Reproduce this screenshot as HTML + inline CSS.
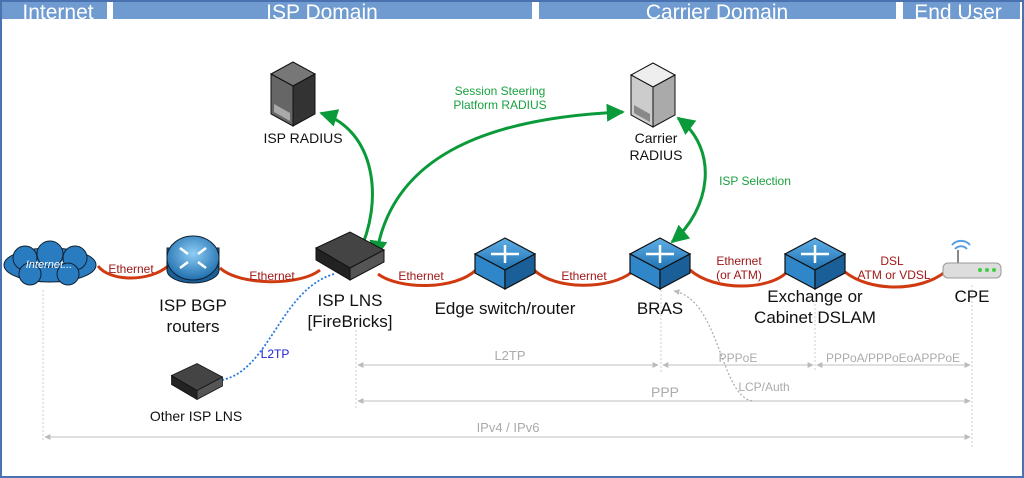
<!DOCTYPE html>
<html><head><meta charset="utf-8"><style>
html,body{margin:0;padding:0;background:#fff}
svg{display:block;font-family:"Liberation Sans",sans-serif}
</style></head><body>
<svg width="1024" height="478" viewBox="0 0 1024 478" xmlns="http://www.w3.org/2000/svg">
<defs>
<marker id="ga" viewBox="0 0 10 10" refX="9" refY="5" markerWidth="6" markerHeight="6" orient="auto-start-reverse"><path d="M0,0L10,5L0,10z" fill="#0a9a3a"/></marker>
<marker id="gr" viewBox="0 0 10 10" refX="9" refY="5" markerWidth="7" markerHeight="5" orient="auto-start-reverse"><path d="M0,0L10,5L0,10z" fill="#bbb"/></marker>
<linearGradient id="sw" x1="0" y1="0" x2="0" y2="1"><stop offset="0" stop-color="#5fb0e8"/><stop offset="1" stop-color="#1f70b0"/></linearGradient>
<radialGradient id="rt" cx="0.5" cy="0.4" r="0.6"><stop offset="0" stop-color="#8fcdf5"/><stop offset="1" stop-color="#1f6fae"/></radialGradient>
<g id="switch">
<path d="M0,-24 L30,-8 L0,8 L-30,-8 Z" fill="url(#sw)" stroke="#111" stroke-width="1.2"/>
<path d="M-30,-8 L0,8 L0,27 L-30,11 Z" fill="#2f86c8" stroke="#111" stroke-width="1.2"/>
<path d="M30,-8 L0,8 L0,27 L30,11 Z" fill="#1a5f98" stroke="#111" stroke-width="1.2"/>
<g stroke="#fff" stroke-width="2.5" fill="none"><path d="M-14,-8 L14,-8 M0,-17 L0,1"/></g>
</g>
<g id="box">
<path d="M-34,-6 L0,-22 L34,-4 L0,14 Z" fill="#444" stroke="#111"/>
<path d="M-34,-6 L0,14 L0,26 L-34,6 Z" fill="#222" stroke="#111"/>
<path d="M34,-4 L0,14 L0,26 L34,8 Z" fill="#555" stroke="#111"/>
</g>
</defs>
<rect x="1" y="1" width="1022" height="476" fill="#fff" stroke="#4a72b0" stroke-width="2"/>
<g fill="#6f9bd0">
<rect x="2" y="2" width="105" height="17"/><rect x="113" y="2" width="419" height="17"/>
<rect x="539" y="2" width="357" height="17"/><rect x="903" y="2" width="117" height="17"/>
</g>
<g fill="#fff" font-size="21" text-anchor="middle">
<text x="58" y="19">Internet</text><text x="322" y="19">ISP Domain</text>
<text x="717" y="19">Carrier Domain</text><text x="958" y="19">End User</text>
</g>
<g stroke="#ccc" stroke-dasharray="2,2" stroke-width="1">
<line x1="43" y1="290" x2="43" y2="440"/><line x1="356" y1="330" x2="356" y2="408"/>
<line x1="661" y1="290" x2="661" y2="372"/><line x1="815" y1="300" x2="815" y2="372"/>
<line x1="972" y1="285" x2="972" y2="447"/>
</g>
<g stroke="#ccc" stroke-width="1.2" fill="none">
<line x1="358" y1="365" x2="658" y2="365" marker-start="url(#gr)" marker-end="url(#gr)"/>
<line x1="663" y1="365" x2="813" y2="365" marker-start="url(#gr)" marker-end="url(#gr)"/>
<line x1="817" y1="365" x2="970" y2="365" marker-start="url(#gr)" marker-end="url(#gr)"/>
<line x1="358" y1="401" x2="970" y2="401" marker-start="url(#gr)" marker-end="url(#gr)"/>
<line x1="45" y1="437" x2="970" y2="437" marker-start="url(#gr)" marker-end="url(#gr)"/>
<path d="M752,401 C720,395 720,300 674,291" stroke="#aaa" stroke-dasharray="2,2" marker-end="url(#gr)"/>
</g>
<g fill="#aaa" font-size="13" text-anchor="middle">
<text x="510" y="360">L2TP</text><text x="738" y="362" font-size="12">PPPoE</text>
<text x="893" y="362" font-size="12">PPPoA/PPPoEoAPPPoE</text><text x="665" y="397" font-size="14">PPP</text>
<text x="508" y="432">IPv4 / IPv6</text><text x="764" y="391" font-size="12">LCP/Auth</text>
</g>
<g stroke="#d03a10" stroke-width="3" fill="none">
<path d="M98,266 C110,282 150,282 168,266"/>
<path d="M220,268 C240,286 300,286 320,270"/>
<path d="M378,274 C400,290 455,290 476,270"/>
<path d="M534,270 C555,290 610,290 632,272"/>
<path d="M690,270 C715,292 770,290 787,272"/>
<path d="M845,272 C870,292 920,292 945,272"/>
</g>
<g fill="#a01818" font-size="12" text-anchor="middle">
<text x="131" y="273">Ethernet</text><text x="272" y="280">Ethernet</text>
<text x="421" y="280">Ethernet</text><text x="584" y="280">Ethernet</text>
<text x="739" y="265">Ethernet</text><text x="739" y="279">(or ATM)</text>
<text x="892" y="265">DSL</text><text x="894" y="279">ATM or VDSL</text>
</g>
<g stroke="#0a9a3a" stroke-width="3" fill="none">
<path d="M321,113 C375,130 385,200 358,255" marker-start="url(#ga)" marker-end="url(#ga)"/>
<path d="M376,257 C390,160 480,118 623,112" marker-start="url(#ga)" marker-end="url(#ga)"/>
<path d="M678,118 C720,150 710,210 672,242" marker-start="url(#ga)" marker-end="url(#ga)"/>
</g>
<g fill="#1aa040" font-size="12" text-anchor="middle">
<text x="500" y="95">Session Steering</text><text x="500" y="109">Platform RADIUS</text>
<text x="755" y="185">ISP Selection</text>
</g>
<path d="M334,274 C280,290 270,370 222,380" stroke="#2a7ae0" stroke-width="1.8" stroke-dasharray="2,2" fill="none"/>
<text x="275" y="358" fill="#2020d0" font-size="12" text-anchor="middle">L2TP</text>
<g fill="#2a7cc0" stroke="#123" stroke-width="1">
<ellipse cx="50" cy="265" rx="46" ry="17"/>
<circle cx="25" cy="258" r="12"/><circle cx="50" cy="254" r="13"/><circle cx="75" cy="258" r="12"/>
<circle cx="30" cy="274" r="11"/><circle cx="68" cy="274" r="11"/>
</g>
<text x="49" y="268" fill="#fff" font-size="11" font-style="italic" text-anchor="middle">Internet...</text>
<rect x="167" y="248" width="52" height="22" fill="#1f6fae" stroke="#123"/>
<ellipse cx="193" cy="270" rx="26" ry="13" fill="#1a5f98" stroke="#123"/>
<ellipse cx="193" cy="258" rx="26" ry="22" fill="url(#rt)" stroke="#123"/>
<g stroke="#fff" stroke-width="2.5"><line x1="180" y1="248" x2="188" y2="254"/><line x1="206" y1="248" x2="198" y2="254"/><line x1="180" y1="268" x2="188" y2="262"/><line x1="206" y1="268" x2="198" y2="262"/></g>
<use href="#box" x="350" y="254"/>
<use href="#box" transform="translate(197,380) scale(0.75)"/>
<use href="#switch" x="505" y="262"/>
<use href="#switch" x="660" y="262"/>
<use href="#switch" x="815" y="262"/>
<g transform="translate(293,96)">
<path d="M-22,-22 L0,-34 L22,-22 L0,-10 Z" fill="#777" stroke="#111"/>
<path d="M-22,-22 L0,-10 L0,30 L-22,18 Z" fill="#666" stroke="#111"/>
<path d="M22,-22 L0,-10 L0,30 L22,18 Z" fill="#333" stroke="#111"/>
<path d="M-19,8 L-3,17 L-3,25 L-19,16 Z" fill="#aaa"/>
</g>
<g transform="translate(653,97)">
<path d="M-22,-22 L0,-34 L22,-22 L0,-10 Z" fill="#eee" stroke="#111"/>
<path d="M-22,-22 L0,-10 L0,30 L-22,18 Z" fill="#ccc" stroke="#111"/>
<path d="M22,-22 L0,-10 L0,30 L22,18 Z" fill="#aaa" stroke="#111"/>
<path d="M-19,8 L-3,17 L-3,25 L-19,16 Z" fill="#888"/>
</g>
<path d="M952,245 a12,12 0 0 1 18,0 M955,249 a8,8 0 0 1 12,0" stroke="#5aa0e0" stroke-width="2" fill="none"/>
<line x1="958" y1="250" x2="958" y2="264" stroke="#888" stroke-width="2"/>
<rect x="943" y="263" width="58" height="15" rx="5" fill="#ddd" stroke="#999"/>
<g fill="#4c4"><circle cx="980" cy="270" r="2"/><circle cx="987" cy="270" r="2"/><circle cx="994" cy="270" r="2"/></g>
<g fill="#111" font-size="17" text-anchor="middle">
<text x="193" y="311">ISP BGP</text><text x="193" y="332">routers</text>
<text x="350" y="306">ISP LNS</text><text x="350" y="327">[FireBricks]</text>
<text x="505" y="314">Edge switch/router</text>
<text x="660" y="314">BRAS</text>
<text x="815" y="302">Exchange or</text><text x="815" y="323">Cabinet DSLAM</text>
<text x="972" y="302">CPE</text>
</g>
<g fill="#111" font-size="14" text-anchor="middle">
<text x="303" y="143">ISP RADIUS</text>
<text x="656" y="143">Carrier</text><text x="656" y="160">RADIUS</text>
<text x="196" y="421">Other ISP LNS</text>
</g>
</svg>
</body></html>
